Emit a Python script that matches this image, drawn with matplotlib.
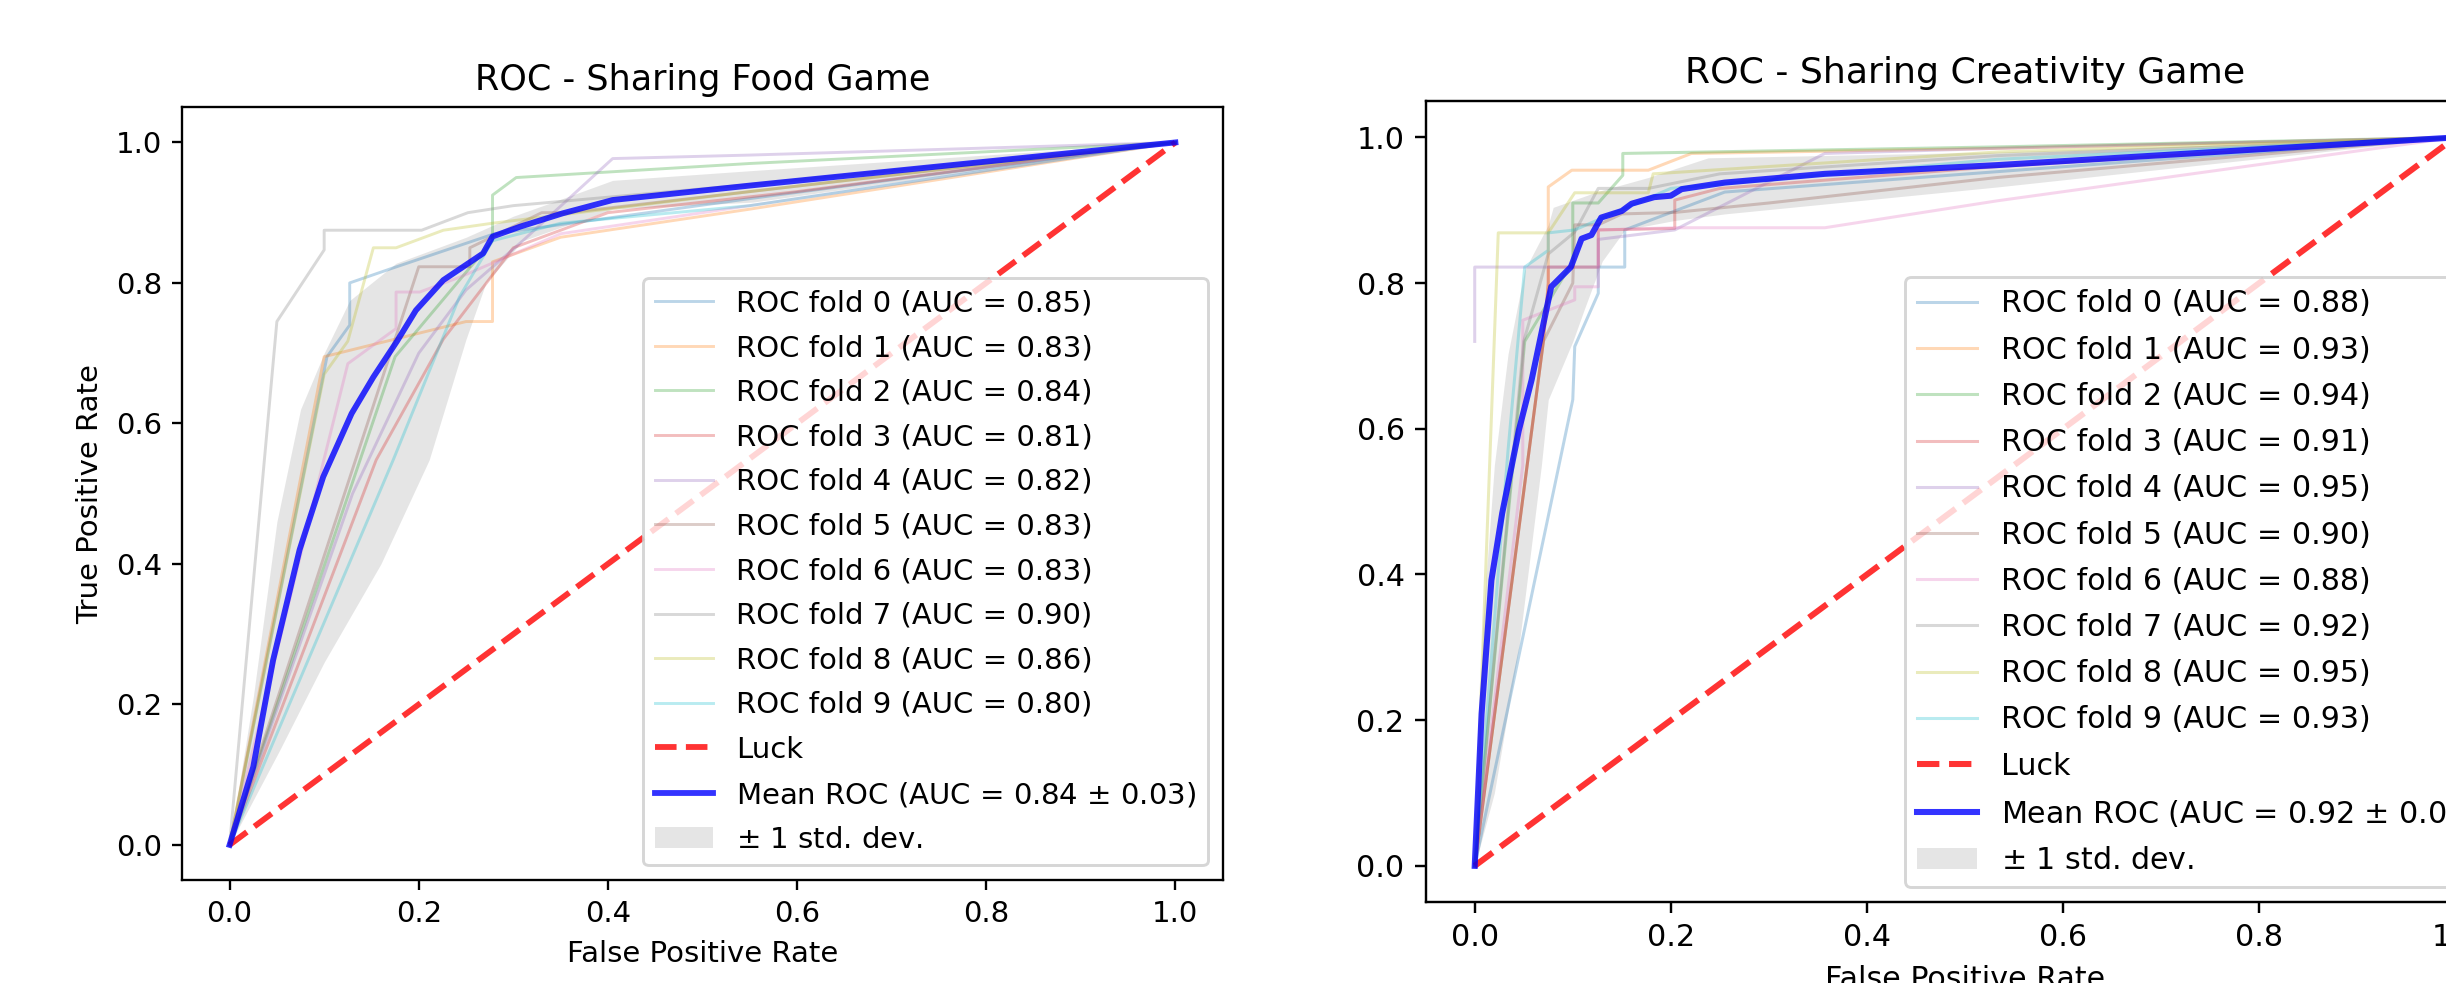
import matplotlib
matplotlib.use("Agg")
import matplotlib.pyplot as plt
import numpy as np

# ---------------- Data: Sharing Food Game ----------------
food_aucs = [0.85, 0.83, 0.84, 0.81, 0.82, 0.83, 0.83, 0.90, 0.86, 0.80]
food_fold_fpr = [
    [0, 0.103, 0.127, 0.127, 0.17, 0.28, 0.55, 1.0],
    [0, 0.10, 0.25, 0.278, 0.278, 0.35, 0.55, 1.0],
    [0, 0.175, 0.278, 0.278, 0.303, 0.55, 1.0],
    [0, 0.155, 0.226, 0.30, 0.40, 0.60, 1.0],
    [0, 0.13, 0.20, 0.25, 0.31, 0.405, 0.55, 1.0],
    [0, 0.20, 0.254, 0.254, 0.33, 0.358, 0.55, 1.0],
    [0, 0.10, 0.125, 0.176, 0.176, 0.201, 0.243, 0.35, 0.55, 1.0],
    [0, 0.05, 0.10, 0.10, 0.203, 0.252, 0.30, 0.55, 1.0],
    [0, 0.10, 0.125, 0.152, 0.176, 0.226, 0.278, 0.55, 1.0],
    [0, 0.173, 0.243, 0.278, 0.35, 0.55, 1.0],
]
food_fold_tpr = [
    [0, 0.695, 0.74, 0.80, 0.82, 0.87, 0.92, 1.0],
    [0, 0.695, 0.745, 0.745, 0.83, 0.865, 0.905, 1.0],
    [0, 0.695, 0.86, 0.925, 0.95, 0.97, 1.0],
    [0, 0.548, 0.72, 0.85, 0.90, 0.93, 1.0],
    [0, 0.50, 0.70, 0.79, 0.86, 0.977, 0.982, 1.0],
    [0, 0.823, 0.823, 0.85, 0.90, 0.90, 0.93, 1.0],
    [0, 0.55, 0.685, 0.735, 0.787, 0.787, 0.808, 0.87, 0.91, 1.0],
    [0, 0.745, 0.847, 0.875, 0.875, 0.90, 0.91, 0.94, 1.0],
    [0, 0.67, 0.717, 0.85, 0.85, 0.875, 0.885, 0.93, 1.0],
    [0, 0.548, 0.78, 0.86, 0.885, 0.91, 1.0],
]
food_mean_fpr = [0, 0.025, 0.046, 0.074, 0.099, 0.129, 0.152, 0.177, 0.197, 0.226,
                 0.268, 0.278, 0.307, 0.352, 0.405, 0.553, 1.0]
food_mean_tpr = [0, 0.111, 0.263, 0.42, 0.524, 0.614, 0.666, 0.717, 0.761, 0.804,
                 0.842, 0.866, 0.880, 0.899, 0.918, 0.939, 1.0]
food_mean_auc = 0.84
food_std_auc = 0.03
food_upper_fpr = [0, 0.025, 0.05, 0.075, 0.10, 0.127, 0.176, 0.25, 0.30, 0.352, 0.405, 0.553, 1.0]
food_upper_tpr = [0, 0.21, 0.46, 0.62, 0.70, 0.775, 0.828, 0.865, 0.895, 0.92, 0.946, 0.96, 1.0]
food_lower_fpr = [0, 0.053, 0.10, 0.16, 0.211, 0.25, 0.271, 0.31, 0.352, 0.405, 0.553, 1.0]
food_lower_tpr = [0, 0.135, 0.26, 0.40, 0.548, 0.72, 0.80, 0.86, 0.88, 0.905, 0.915, 1.0]

# ---------------- Data: Sharing Creativity Game ----------------
crea_aucs = [0.88, 0.93, 0.94, 0.91, 0.95, 0.90, 0.88, 0.92, 0.95, 0.93]
crea_fold_fpr = [
    [0, 0.10, 0.102, 0.126, 0.126, 0.153, 0.153, 0.255, 0.533, 1.0],
    [0, 0.07, 0.075, 0.075, 0.099, 0.177, 0.221, 0.533, 1.0],
    [0, 0.051, 0.10, 0.10, 0.126, 0.151, 0.151, 0.533, 1.0],
    [0, 0.07, 0.075, 0.075, 0.126, 0.126, 0.204, 0.204, 0.25, 0.533, 1.0],
    [0, 0, 0.126, 0.126, 0.204, 0.357, 0.533, 1.0],
    [0, 0.07, 0.10, 0.102, 0.126, 0.15, 0.204, 0.30, 0.533, 1.0],
    [0, 0.049, 0.049, 0.102, 0.102, 0.126, 0.126, 0.204, 0.357, 0.533, 1.0],
    [0, 0.05, 0.075, 0.102, 0.126, 0.177, 0.25, 0.533, 1.0],
    [0, 0.024, 0.075, 0.102, 0.177, 0.182, 0.533, 1.0],
    [0, 0.034, 0.051, 0.075, 0.075, 0.102, 0.20, 0.533, 1.0],
]
crea_fold_tpr = [
    [0, 0.64, 0.713, 0.786, 0.822, 0.822, 0.873, 0.925, 0.953, 1.0],
    [0, 0.72, 0.80, 0.932, 0.955, 0.955, 0.978, 0.985, 1.0],
    [0, 0.72, 0.83, 0.91, 0.91, 0.948, 0.978, 0.987, 1.0],
    [0, 0.72, 0.80, 0.822, 0.822, 0.873, 0.875, 0.914, 0.93, 0.96, 1.0],
    [0.72, 0.822, 0.822, 0.86, 0.873, 0.978, 0.985, 1.0],
    [0, 0.72, 0.80, 0.88, 0.88, 0.895, 0.897, 0.91, 0.945, 1.0],
    [0, 0.55, 0.749, 0.777, 0.795, 0.795, 0.873, 0.876, 0.876, 0.913, 1.0],
    [0, 0.72, 0.84, 0.87, 0.93, 0.93, 0.95, 0.975, 1.0],
    [0, 0.869, 0.869, 0.924, 0.924, 0.95, 0.98, 1.0],
    [0, 0.571, 0.822, 0.845, 0.869, 0.873, 0.93, 0.97, 1.0],
]
crea_mean_fpr = [0, 0.007, 0.017, 0.028, 0.045, 0.058, 0.078, 0.098, 0.109, 0.119, 0.129,
                 0.150, 0.160, 0.183, 0.200, 0.211, 0.255, 0.357, 0.533, 1.0]
crea_mean_tpr = [0, 0.209, 0.392, 0.484, 0.598, 0.667, 0.795, 0.822, 0.861, 0.866, 0.890,
                 0.899, 0.909, 0.918, 0.920, 0.929, 0.938, 0.950, 0.962, 1.0]
crea_mean_auc = 0.92
crea_std_auc = 0.03
crea_upper_fpr = [0, 0.008, 0.02, 0.034, 0.051, 0.075, 0.080, 0.126, 0.177, 0.238, 0.533, 1.0]
crea_upper_tpr = [0, 0.33, 0.55, 0.703, 0.818, 0.88, 0.904, 0.926, 0.945, 0.972, 0.98, 1.0]
crea_lower_fpr = [0, 0.02, 0.045, 0.068, 0.075, 0.10, 0.112, 0.13, 0.153, 0.204, 0.255, 0.533, 1.0]
crea_lower_tpr = [0, 0.10, 0.30, 0.55, 0.64, 0.72, 0.765, 0.83, 0.873, 0.886, 0.895, 0.932, 1.0]

ticks = [0.0, 0.2, 0.4, 0.6, 0.8, 1.0]

# ---------------- Drawing ----------------
DPI = 209.8
fig = plt.figure(figsize=(2446 / DPI, 983 / DPI), dpi=DPI)


def merge_band(lf, lt, uf, ut):
    xs = sorted(set(lf) | set(uf))
    lo = np.interp(xs, lf, lt)
    hi = np.interp(xs, uf, ut)
    return xs, lo, hi


def draw_panel(ax, fold_fpr, fold_tpr, aucs, mfpr, mtpr, mauc, sauc,
               lf, lt, uf, ut, title, s, ylabel):
    for i, (f, t) in enumerate(zip(fold_fpr, fold_tpr)):
        ax.plot(f, t, lw=1 * s, alpha=0.3, color=f"C{i}",
                label=f"ROC fold {i} (AUC = {aucs[i]:.2f})")
    ax.plot([0, 1], [0, 1], linestyle="--", lw=2 * s, color="r", alpha=0.8, label="Luck")
    ax.plot(mfpr, mtpr, color="b", lw=2 * s, alpha=0.8,
            label=r"Mean ROC (AUC = %0.2f $\pm$ %0.2f)" % (mauc, sauc))
    xs, lo, hi = merge_band(lf, lt, uf, ut)
    ax.fill_between(xs, lo, hi, color="grey", alpha=0.2, lw=0,
                    label=r"$\pm$ 1 std. dev.")
    ax.set_xlim(-0.05, 1.05)
    ax.set_ylim(-0.05, 1.05)
    ax.set_xticks(ticks)
    ax.set_yticks(ticks)
    ax.tick_params(labelsize=10 * s, length=3.5 * s, width=0.8 * s, pad=3.5 * s)
    for sp in ax.spines.values():
        sp.set_linewidth(0.8 * s)
    ax.set_xlabel("False Positive Rate", fontsize=10 * s, labelpad=4 * s)
    if ylabel:
        ax.set_ylabel("True Positive Rate", fontsize=10 * s, labelpad=4 * s)
    ax.set_title(title, fontsize=12 * s, pad=6 * s)
    ax.legend(loc="lower right", fontsize=10 * s, borderpad=0.4, labelspacing=0.57,
              handlelength=2.0, handletextpad=0.8, borderaxespad=0.5)


ax1 = fig.add_axes([182.3 / 2446, (983 - 880) / 983, 1040.4 / 2446, 772.7 / 983])
draw_panel(ax1, food_fold_fpr, food_fold_tpr, food_aucs, food_mean_fpr, food_mean_tpr,
           food_mean_auc, food_std_auc, food_lower_fpr, food_lower_tpr,
           food_upper_fpr, food_upper_tpr, "ROC - Sharing Food Game", 1.0, True)

ax2 = fig.add_axes([1425.7 / 2446, (983 - 902.3) / 983, 1078.6 / 2446, 801.3 / 983])
draw_panel(ax2, crea_fold_fpr, crea_fold_tpr, crea_aucs, crea_mean_fpr, crea_mean_tpr,
           crea_mean_auc, crea_std_auc, crea_lower_fpr, crea_lower_tpr,
           crea_upper_fpr, crea_upper_tpr, "ROC - Sharing Creativity Game", 1.037, False)

fig.savefig("out.png", dpi=DPI)
